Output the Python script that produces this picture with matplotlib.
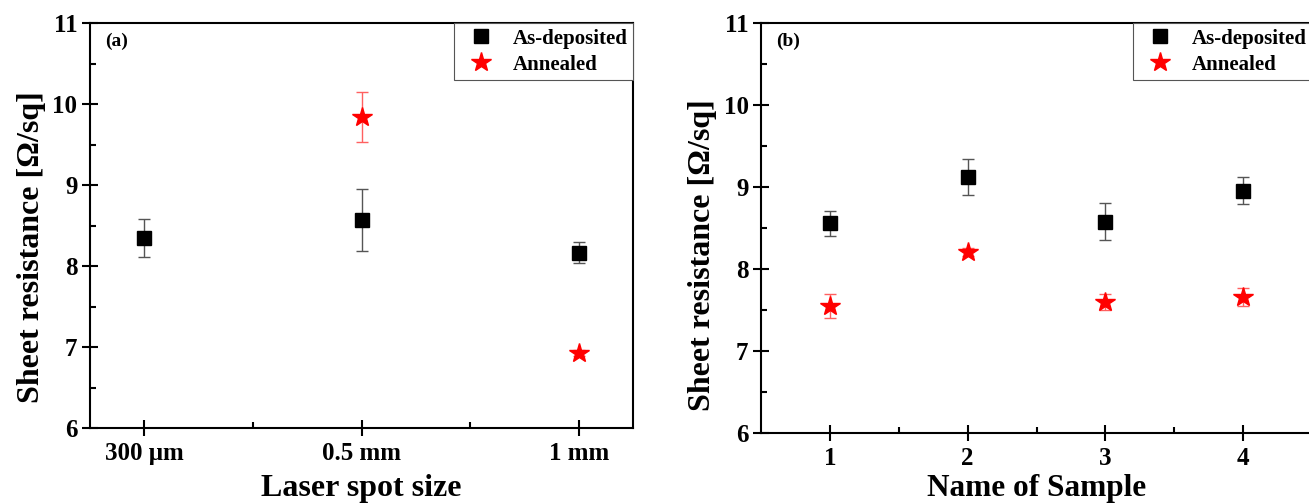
import matplotlib
matplotlib.use("Agg")
import matplotlib.pyplot as plt
from matplotlib.ticker import MultipleLocator, FixedLocator
from matplotlib.lines import Line2D

plt.rcParams['font.family'] = ['Liberation Serif', 'DejaVu Serif']
plt.rcParams['font.weight'] = 'bold'
plt.rcParams['mathtext.default'] = 'regular'

# Panel (a)
spot_labels = ["300 μm", "0.5 mm", "1 mm"]
spot_pos = [1, 2, 3]
a_dep = [8.35, 8.57, 8.17]
a_dep_err = [0.235, 0.385, 0.125]
a_ann = [9.84, 6.93]
a_ann_pos = [2, 3]
a_ann_err = [0.31, 0.04]

# Panel (b)
samples = [1, 2, 3, 4]
b_dep = [8.56, 9.13, 8.58, 8.96]
b_dep_err = [0.155, 0.22, 0.225, 0.16]
b_ann = [7.55, 8.21, 7.60, 7.66]
b_ann_err = [0.145, 0.05, 0.095, 0.11]

W, H = 1309, 503
fig = plt.figure(figsize=(W / 100, H / 100), dpi=100)

axA = fig.add_axes([90 / W, 1 - 428.3 / H, (633.3 - 90) / W, (428.3 - 23.3) / H])
axB = fig.add_axes([761 / W, 1 - 433.3 / H, (1312 - 761) / W, (433.3 - 23.3) / H])

SQ_MS, ST_MS = 10.3, 14.5
dep_kw = dict(fmt='s', color='black', ms=SQ_MS, ecolor='#555555', elinewidth=1.0,
              capsize=4, capthick=1.0, zorder=3)
ann_kw = dict(fmt='*', color='red', ms=ST_MS, ecolor='#ff6060', elinewidth=1.0,
              capsize=4, capthick=1.0, zorder=3)

axA.errorbar(spot_pos, a_dep, yerr=a_dep_err, **dep_kw)
axA.errorbar(a_ann_pos, a_ann, yerr=a_ann_err, **ann_kw)
axB.errorbar(samples, b_dep, yerr=b_dep_err, **dep_kw)
axB.errorbar(samples, b_ann, yerr=b_ann_err, **ann_kw)

axA.set_xlim(0.75, 3.25)
axA.set_xticks(spot_pos)
axA.set_xticklabels(spot_labels)
axA.xaxis.set_minor_locator(FixedLocator([1.5, 2.5]))
axA.set_xlabel("Laser spot size", fontsize=23, fontweight='bold', labelpad=6)

axB.set_xlim(0.5, 4.5)
axB.set_xticks(samples)
axB.xaxis.set_minor_locator(FixedLocator([1.5, 2.5, 3.5]))
axB.set_xlabel("Name of Sample", fontsize=22.5, fontweight='bold', labelpad=3)

handles = [Line2D([], [], ls='none', marker='s', color='black', ms=SQ_MS),
           Line2D([], [], ls='none', marker='*', color='red', ms=ST_MS)]
labels = ['As-deposited', 'Annealed']

for ax, tag, ly in ((axA, "(a)", 0.448), (axB, "(b)", 0.434)):
    ax.set_ylim(6, 11)
    ax.yaxis.set_major_locator(MultipleLocator(1))
    ax.yaxis.set_minor_locator(MultipleLocator(0.5))
    ax.set_ylabel("Sheet resistance [Ω/sq]", fontsize=23, fontweight='bold', labelpad=5)
    ax.yaxis.label.set_y(ly)
    for s in ax.spines.values():
        s.set_linewidth(1.5)
    ax.tick_params(which='major', direction='inout', length=12, width=1.5,
                   labelsize=18, pad=3)
    ax.tick_params(axis='x', which='major', pad=4)
    ax.tick_params(which='minor', direction='in', length=4, width=1.5)
    for lab in ax.get_xticklabels() + ax.get_yticklabels():
        lab.set_fontweight('bold')
    ax.text(0.028, 0.955, tag, transform=ax.transAxes, fontsize=14,
            fontweight='bold', va='center', ha='left')
    leg = ax.legend(handles, labels, loc='upper right', bbox_to_anchor=(1, 1),
                    borderaxespad=0, fancybox=False, edgecolor='#555555',
                    framealpha=1, prop={'size': 15, 'weight': 'bold'},
                    handletextpad=0.5, borderpad=0.25, labelspacing=0.3,
                    handlelength=2.1)
    leg.get_frame().set_linewidth(0.8)

fig.savefig("out.png", dpi=100)
